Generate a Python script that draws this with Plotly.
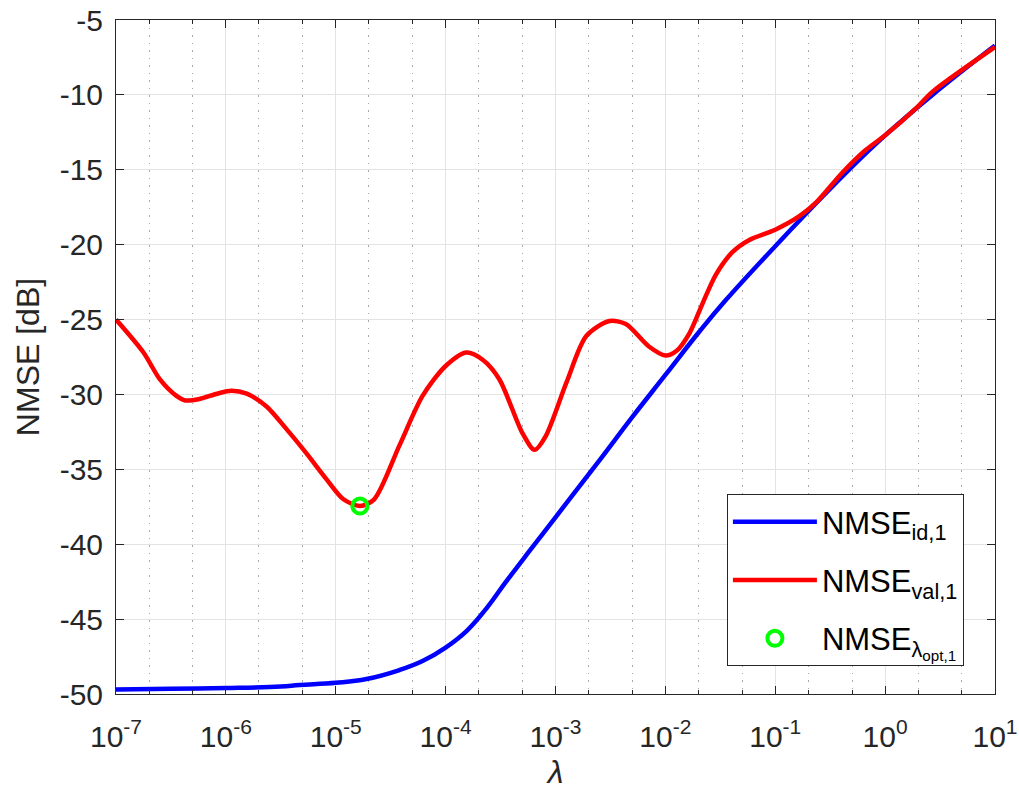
import plotly.graph_objects as go

# ---- data ----
log_lambda_id = [-7, -6.5, -6, -5.5, -5.33, -5.0, -4.72, -4.42, -4.21, -4.0, -3.81, -3.63,
                 -3.45, -3.21, -3.0, -2.6, -2.3, -2.0, -1.69, -1.45, -1.0, -0.69, -0.33,
                 0.0, 0.43, 1.0]
nmse_id = [-49.7, -49.65, -49.6, -49.5, -49.4, -49.25, -49.0, -48.4, -47.8, -46.9, -45.8,
           -44.3, -42.5, -40.2, -38.2, -34.4, -31.5, -28.7, -25.8, -23.7, -20.1, -17.7,
           -15.0, -12.7, -10.0, -6.7]

log_lambda_val = [-7, -6.75, -6.6, -6.45, -6.37, -6.24, -6.08, -5.95, -5.81, -5.63, -5.45,
                  -5.27, -5.08, -4.93, -4.78, -4.65, -4.42, -4.21, -4.0, -3.81, -3.66, -3.51,
                  -3.30, -3.19, -3.09, -2.90, -2.72, -2.51, -2.36, -2.15, -2.0, -1.90, -1.78,
                  -1.66, -1.54, -1.39, -1.24, -1.0, -0.78, -0.63, -0.39, -0.18, 0.0, 0.28,
                  0.43, 1.0]
nmse_val = [-25.0, -27.2, -29.0, -30.1, -30.4, -30.3, -29.95, -29.75, -29.95, -30.8, -32.3,
            -33.9, -35.7, -37.0, -37.45, -37.0, -33.4, -30.1, -28.1, -27.2, -27.7, -29.0,
            -32.6, -33.7, -32.8, -29.2, -26.1, -25.1, -25.3, -26.8, -27.4, -27.1, -25.9,
            -23.9, -22.0, -20.5, -19.7, -19.0, -18.1, -17.2, -15.2, -13.7, -12.7, -10.9,
            -9.8, -6.8]

lambda_opt = [1.66e-5]
nmse_opt = [-37.45]

x_tick_vals = [1e-7, 1e-6, 1e-5, 1e-4, 1e-3, 1e-2, 1e-1, 1e0, 1e1]
x_tick_text = ["10<sup>-7</sup>", "10<sup>-6</sup>", "10<sup>-5</sup>", "10<sup>-4</sup>",
               "10<sup>-3</sup>", "10<sup>-2</sup>", "10<sup>-1</sup>", "10<sup>0</sup>",
               "10<sup>1</sup>"]
y_tick_vals = [-50, -45, -40, -35, -30, -25, -20, -15, -10, -5]
y_tick_text = ["-50", "-45", "-40", "-35", "-30", "-25", "-20", "-15", "-10", "-5"]

lam_id = [10 ** v for v in log_lambda_id]
lam_val = [10 ** v for v in log_lambda_val]

FONT = "Liberation Sans, Arial, Helvetica, sans-serif"
AX = "#262626"

fig = go.Figure()
fig.add_trace(go.Scatter(x=lam_id, y=nmse_id, mode="lines", legendgroup="a",
                         line=dict(color="#0000ff", width=4.5, shape="spline", smoothing=1.2),
                         name="NMSE<sub>id,1</sub>"))
fig.add_trace(go.Scatter(x=lam_val, y=nmse_val, mode="lines", legendgroup="b",
                         line=dict(color="#ff0000", width=4.5, shape="spline", smoothing=0.8),
                         name="NMSE<sub>val,1</sub>"))
fig.add_trace(go.Scatter(x=lambda_opt, y=nmse_opt, mode="markers", legendgroup="c",
                         marker=dict(symbol="circle-open", size=15, color="#00ff00",
                                     line=dict(width=4, color="#00ff00")),
                         name="NMSE<sub>λ<sub>opt,1</sub></sub>"))

fig.update_layout(
    width=1019, height=800,
    margin=dict(l=116, r=24, t=20, b=106, autoexpand=False),
    paper_bgcolor="white", plot_bgcolor="white",
    font=dict(family=FONT, color=AX, size=30),
    showlegend=True,
    legend=dict(x=0.695, y=0.2967, xanchor="left", yanchor="top",
                bgcolor="white", bordercolor=AX, borderwidth=1,
                font=dict(size=31, color="black"), itemwidth=84,
                tracegroupgap=15),
)
fig.update_xaxes(
    type="log", range=[-7, 1], automargin=False,
    tickvals=x_tick_vals, ticktext=x_tick_text,
    ticks="inside", ticklen=8, tickcolor=AX, tickwidth=1,
    showline=True, linecolor=AX, linewidth=1, mirror="allticks",
    showgrid=True, gridcolor="#e3e3e3", gridwidth=1,
    minor=dict(ticks="inside", ticklen=4, tickcolor=AX, showgrid=True,
               gridcolor="#a8a8a8", griddash="1.5px,6px", gridwidth=1),
    tickfont=dict(size=30, color=AX),
    ticklabelstandoff=16, ticklabeloverflow="allow",
    title=dict(text="<i>λ</i>", font=dict(size=32, color=AX), standoff=8),
    zeroline=False,
)
fig.update_yaxes(
    range=[-50, -5], automargin=False,
    tickvals=y_tick_vals, ticktext=y_tick_text,
    ticks="inside", ticklen=8, tickcolor=AX, tickwidth=1,
    showline=True, linecolor=AX, linewidth=1, mirror="allticks",
    showgrid=True, gridcolor="#e3e3e3", gridwidth=1,
    tickfont=dict(size=30, color=AX),
    ticklabelstandoff=6, ticklabeloverflow="allow",
    title=dict(text="NMSE [dB]", font=dict(size=32, color=AX), standoff=10),
    zeroline=False,
)

# remove the default 8px page margin so the 1019x800 figure fills the window exactly
fig.write_html("out.html", config={"displayModeBar": False},
               post_script="document.body.style.margin='0';")
